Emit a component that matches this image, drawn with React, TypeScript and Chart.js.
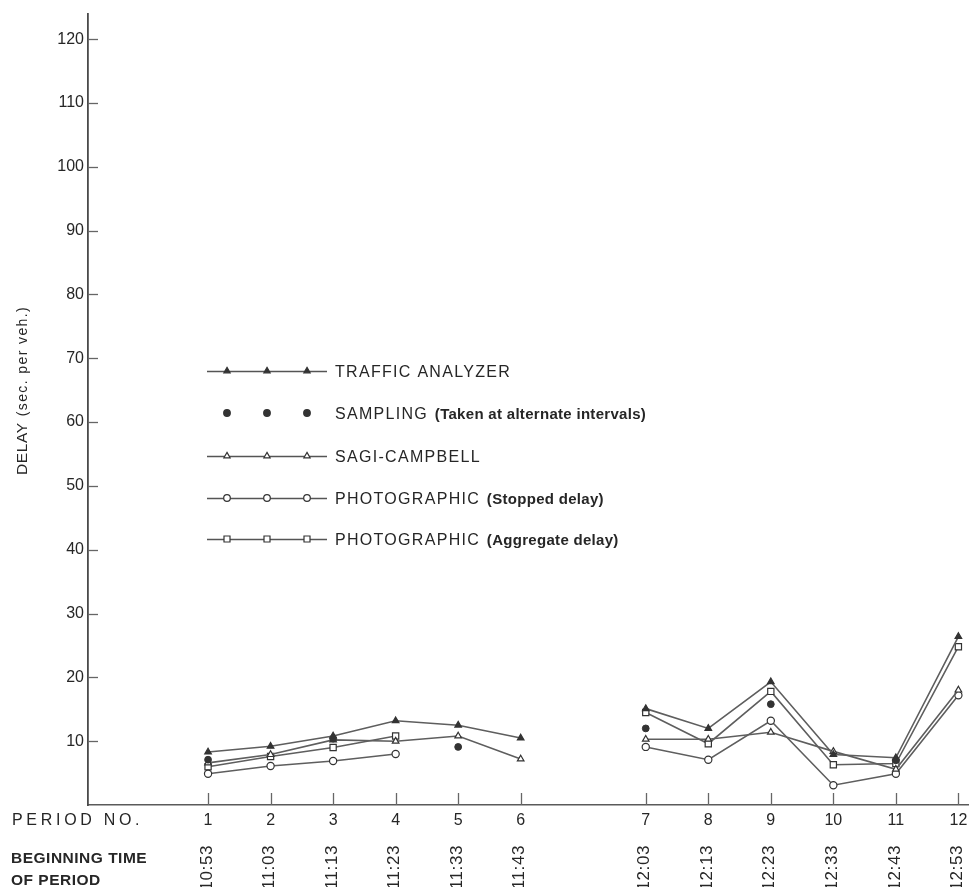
import { useEffect, useRef } from "react";
import { Chart, registerables } from "chart.js";

Chart.register(...registerables);

// Period numbers and the clock time at which each period begins
const PERIODS = ["1", "2", "3", "4", "5", "6", "7", "8", "9", "10", "11", "12"];
const START_TIMES = ["10:53", "11:03", "11:13", "11:23", "11:33", "11:43", "12:03", "12:13", "12:23", "12:33", "12:43", "12:53"];
// Horizontal slot of each period; slot 7 is left empty (no observations between 11:53 and 12:03)
const SLOTS = [1, 2, 3, 4, 5, 6, 8, 9, 10, 11, 12, 13];
const GAP_SLOT = 7;
const Y_TICKS = [10, 20, 30, 40, 50, 60, 70, 80, 90, 100, 110, 120];

// Delay, seconds per vehicle
const TRAFFIC_ANALYZER = [8.3, 9.2, 10.8, 13.2, 12.5, 10.5, 15.1, 12.0, 19.3, 7.9, 7.4, 26.4];
const SAMPLING = [7.1, null, 10.4, null, 9.1, null, 12.0, null, 15.8, null, 7.0, null];
const SAGI_CAMPBELL = [6.6, 7.9, 10.2, 10.0, 10.8, 7.2, 10.3, 10.3, 11.4, 8.4, 5.6, 18.0];
const PHOTO_STOPPED = [4.9, 6.1, 6.9, 8.0, null, null, 9.1, 7.1, 13.2, 3.1, 4.9, 17.2];
const PHOTO_AGGREGATE = [6.0, 7.6, 9.0, 10.8, null, null, 14.5, 9.6, 17.8, 6.3, 6.5, 24.8];

const FONT = "'Liberation Sans', Arial, Helvetica, sans-serif";
const INK = "#262626";
const LINE = "#5e5e5e";

type Marker = "triangle" | "dot" | "openTriangle" | "openCircle" | "openSquare";

const LEGEND: { name: string; note: string; marker: Marker; line: boolean }[] = [
  { name: "TRAFFIC ANALYZER", note: "", marker: "triangle", line: true },
  { name: "SAMPLING", note: "(Taken at alternate intervals)", marker: "dot", line: false },
  { name: "SAGI-CAMPBELL", note: "", marker: "openTriangle", line: true },
  { name: "PHOTOGRAPHIC", note: "(Stopped delay)", marker: "openCircle", line: true },
  { name: "PHOTOGRAPHIC", note: "(Aggregate delay)", marker: "openSquare", line: true },
];

function toPoints(values: (number | null)[]) {
  const pts: { x: number; y: number | null }[] = [];
  values.forEach((v, i) => {
    if (SLOTS[i] > GAP_SLOT && SLOTS[i - 1] < GAP_SLOT) pts.push({ x: GAP_SLOT, y: null });
    pts.push({ x: SLOTS[i], y: v });
  });
  return pts;
}

function drawMarker(ctx: CanvasRenderingContext2D, kind: Marker, x: number, y: number) {
  ctx.save();
  ctx.lineWidth = 1.2;
  ctx.strokeStyle = "#333";
  ctx.fillStyle = kind === "triangle" || kind === "dot" ? "#333" : "#fff";
  ctx.beginPath();
  if (kind === "triangle" || kind === "openTriangle") {
    const r = 3.6;
    for (let k = 0; k < 3; k++) {
      const a = (k * 2 * Math.PI) / 3;
      const px = x + Math.sin(a) * r;
      const py = y - Math.cos(a) * r;
      if (k === 0) ctx.moveTo(px, py);
      else ctx.lineTo(px, py);
    }
    ctx.closePath();
  } else if (kind === "openSquare") {
    ctx.rect(x - 3, y - 3, 6, 6);
  } else {
    ctx.arc(x, y, kind === "dot" ? 3.3 : 3.3, 0, Math.PI * 2);
  }
  ctx.fill();
  ctx.stroke();
  ctx.restore();
}

const decorations = {
  id: "decorations",
  afterDraw(chart: any) {
    const { ctx, chartArea: ca } = chart;
    const xs = chart.scales.x;
    const ys = chart.scales.y;
    ctx.save();

    // inward tick marks on both axes
    ctx.strokeStyle = "#666";
    ctx.lineWidth = 1.3;
    Y_TICKS.forEach((v) => {
      const py = Math.round(ys.getPixelForValue(v)) + 0.5;
      ctx.beginPath();
      ctx.moveTo(ca.left, py);
      ctx.lineTo(ca.left + 10, py);
      ctx.stroke();
    });
    SLOTS.forEach((s) => {
      const px = Math.round(xs.getPixelForValue(s)) + 0.5;
      ctx.beginPath();
      ctx.moveTo(px, ca.bottom);
      ctx.lineTo(px, ca.bottom - 12);
      ctx.stroke();
    });

    ctx.fillStyle = INK;

    // beginning times, written upward under each period number
    ctx.font = `17px ${FONT}`;
    ctx.textAlign = "right";
    ctx.textBaseline = "middle";
    SLOTS.forEach((s, i) => {
      const px = xs.getPixelForValue(s);
      ctx.save();
      ctx.translate(px - 1, ca.bottom + 40);
      ctx.rotate(-Math.PI / 2);
      (ctx as any).letterSpacing = "0.6px";
      ctx.fillText(START_TIMES[i], 0, 0);
      ctx.restore();
    });

    // row captions below the axis
    ctx.textAlign = "left";
    ctx.textBaseline = "alphabetic";
    ctx.font = `16px ${FONT}`;
    (ctx as any).letterSpacing = "3.7px";
    ctx.fillText("PERIOD NO.", 12, ca.bottom + 20);
    (ctx as any).letterSpacing = "0.5px";
    ctx.font = `bold 15.5px ${FONT}`;
    ctx.fillText("BEGINNING TIME", 11, ca.bottom + 58);
    ctx.fillText("OF PERIOD", 11, ca.bottom + 80);

    // vertical axis caption
    ctx.save();
    ctx.translate(27, 475);
    ctx.rotate(-Math.PI / 2);
    (ctx as any).letterSpacing = "0.6px";
    ctx.font = `15.5px ${FONT}`;
    ctx.fillText("DELAY", 0, 0);
    const w = ctx.measureText("DELAY").width;
    (ctx as any).letterSpacing = "1.4px";
    ctx.font = `14px ${FONT}`;
    ctx.fillText("(sec. per veh.)", w + 6, 0);
    ctx.restore();

    // key
    const rowY = [371, 413, 456, 498, 539];
    const lineX0 = ca.left + 119;
    const lineX1 = ca.left + 239;
    const markX = [ca.left + 139, ca.left + 179, ca.left + 219];
    const textX = ca.left + 247;
    LEGEND.forEach((item, i) => {
      const y = rowY[i];
      if (item.line) {
        ctx.strokeStyle = "#555";
        ctx.lineWidth = 1.3;
        ctx.beginPath();
        ctx.moveTo(lineX0, y + 0.5);
        ctx.lineTo(lineX1, y + 0.5);
        ctx.stroke();
      }
      markX.forEach((mx) => drawMarker(ctx, item.marker, mx, y));
      ctx.fillStyle = INK;
      ctx.textAlign = "left";
      ctx.textBaseline = "alphabetic";
      (ctx as any).letterSpacing = "1.3px";
      ctx.font = `16px ${FONT}`;
      ctx.fillText(item.name, textX, y + 6);
      if (item.note) {
        const nw = ctx.measureText(item.name + " ").width;
        (ctx as any).letterSpacing = "0.3px";
        ctx.font = `bold 15px ${FONT}`;
        ctx.fillText(item.note, textX + nw + 1, y + 6);
      }
    });
    ctx.restore();
  },
};

function lineSet(label: string, data: (number | null)[], style: string, fill: string, radius: number) {
  return {
    label,
    data: toPoints(data),
    borderColor: LINE,
    borderWidth: 1.6,
    pointStyle: style,
    pointRadius: radius,
    pointBackgroundColor: fill,
    pointBorderColor: "#333",
    pointBorderWidth: 1.2,
    spanGaps: false,
    tension: 0,
  };
}

export default function App() {
  const canvasRef = useRef<HTMLCanvasElement | null>(null);

  useEffect(() => {
    const canvas = canvasRef.current;
    if (!canvas) return;
    const chart = new Chart(canvas, {
      type: "line",
      data: {
        datasets: [
          lineSet("TRAFFIC ANALYZER", TRAFFIC_ANALYZER, "triangle", "#333", 3.8),
          {
            label: "SAMPLING",
            data: toPoints(SAMPLING),
            showLine: false,
            pointStyle: "circle",
            pointRadius: 3.4,
            pointBackgroundColor: "#333",
            pointBorderColor: "#333",
            pointBorderWidth: 1,
          },
          lineSet("SAGI-CAMPBELL", SAGI_CAMPBELL, "triangle", "#fff", 3.8),
          lineSet("PHOTOGRAPHIC (Stopped delay)", PHOTO_STOPPED, "circle", "#fff", 3.6),
          lineSet("PHOTOGRAPHIC (Aggregate delay)", PHOTO_AGGREGATE, "rect", "#fff", 4.4),
        ] as any,
      },
      options: {
        responsive: false,
        animation: false,
        layout: { padding: { top: 13, left: 0, right: 0, bottom: 0 } },
        plugins: {
          legend: { display: false },
          tooltip: { enabled: false },
        },
        scales: {
          x: {
            type: "linear",
            min: -0.92,
            max: 13.16,
            grid: { display: false, drawTicks: false },
            border: { display: true, color: "#5a5a5a", width: 1.6 },
            afterBuildTicks: (scale: any) => {
              scale.ticks = SLOTS.map((v) => ({ value: v }));
            },
            afterFit: (scale: any) => {
              scale.height = 82;
            },
            ticks: {
              autoSkip: false,
              maxRotation: 0,
              minRotation: 0,
              padding: 6,
              color: INK,
              font: { family: FONT, size: 16 },
              callback: (value: any) => {
                const i = SLOTS.indexOf(Number(value));
                return i >= 0 ? PERIODS[i] : "";
              },
            },
          },
          y: {
            type: "linear",
            min: 0,
            max: 124,
            grid: { display: false, drawTicks: false },
            border: { display: true, color: "#4a4a4a", width: 1.8 },
            afterBuildTicks: (scale: any) => {
              scale.ticks = Y_TICKS.map((v) => ({ value: v }));
            },
            afterFit: (scale: any) => {
              scale.width = 88;
            },
            ticks: {
              padding: 4,
              color: INK,
              font: { family: FONT, size: 16 },
            },
          },
        },
      } as any,
      plugins: [decorations],
    });
    return () => chart.destroy();
  }, []);

  return (
    <div
      style={{
        position: "absolute",
        left: 0,
        top: 0,
        width: 974,
        height: 887,
        overflow: "hidden",
        background: "#fff",
      }}
    >
      <canvas ref={canvasRef} width={974} height={887} style={{ display: "block" }} />
    </div>
  );
}
